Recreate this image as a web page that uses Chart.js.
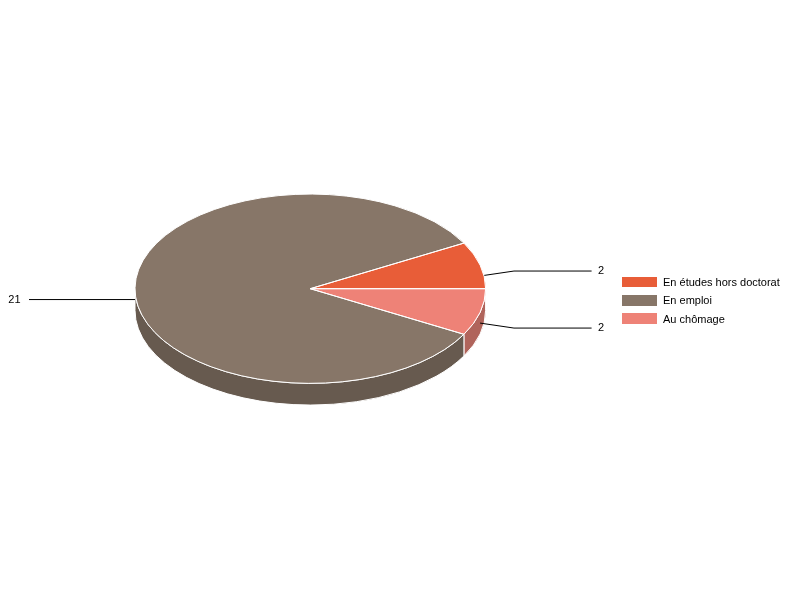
<!DOCTYPE html>
<html lang="fr">
<head>
<meta charset="utf-8">
<title>Situation professionnelle</title>
<script src="https://cdn.jsdelivr.net/npm/chart.js@4.4.1/dist/chart.umd.min.js"></script>
<style>
    html, body { margin: 0; padding: 0; background: #fff; }
    #wrap { position: relative; width: 800px; height: 600px; }
    #pie { position: absolute; left: 0; top: 0; }
    #legend {
        position: absolute; left: 622px; top: 273px;
        font: 11px Arial, "Liberation Sans", sans-serif; color: #000;
    }
    .legend-item { display: flex; align-items: center; height: 18.3px; }
    .legend-color { width: 34.5px; height: 10.5px; margin-right: 6.5px; }
</style>
</head>
<body>
<div id="wrap">
    <canvas id="pie" width="800" height="600"></canvas>
    <div id="legend"></div>
</div>
<script>
// Data
const categories = ['En études hors doctorat', 'En emploi', 'Au chômage'];
const values = [2, 21, 2];
const topColors = ['#E85D38', '#877668', '#EE8277'];
const sideColors = ['#B0482B', '#675A4F', '#B0645B'];

const SQUASH = 0.54;   // ry / rx of the tilted disc
const DEPTH = 21.7;    // thickness of the disc in px

// slices run clockwise from 3 o'clock, so the chart gets them in reverse
const order = categories.map((c, i) => categories.length - 1 - i);

function frontRanges(s, e) {
    const out = [];
    for (let k = -1; k <= 1; k++) {
        const lo = Math.max(s, 2 * Math.PI * k);
        const hi = Math.min(e, 2 * Math.PI * k + Math.PI);
        if (hi > lo) out.push([lo, hi]);
    }
    return out;
}

function leader(arc) {
    const m = (arc.startAngle + arc.endAngle) / 2;
    const rx = arc.outerRadius, ry = rx * SQUASH;
    const base = arc.y + DEPTH / 2;
    const start = { x: arc.x + rx * Math.cos(m), y: base + ry * Math.sin(m) };
    const elbow = { x: arc.x + (rx + 35) * Math.cos(m), y: base + (ry + 20) * Math.sin(m) };
    const right = Math.cos(m) >= 0;
    const endX = right ? arc.x + rx + 106 : arc.x - rx - 106;
    return { start, elbow, endX, right };
}

const pie3d = {
    id: 'pie3d',
    beforeDatasetsDraw(chart) {
        const ctx = chart.ctx;
        const arcs = chart.getDatasetMeta(0).data;
        ctx.save();
        // side walls
        arcs.forEach((arc, i) => {
            const rx = arc.outerRadius, ry = rx * SQUASH;
            frontRanges(arc.startAngle, arc.endAngle).forEach(([a, b]) => {
                ctx.beginPath();
                ctx.ellipse(arc.x, arc.y, rx, ry, 0, a, b);
                ctx.ellipse(arc.x, arc.y + DEPTH, rx, ry, 0, b, a, true);
                ctx.closePath();
                ctx.fillStyle = sideColors[order[i]];
                ctx.fill();
                ctx.strokeStyle = '#fff';
                ctx.lineWidth = 1;
                ctx.stroke();
            });
        });
        // leader lines (drawn under the top faces)
        ctx.strokeStyle = '#000';
        ctx.lineWidth = 1;
        arcs.forEach(arc => {
            const l = leader(arc);
            ctx.beginPath();
            ctx.moveTo(l.start.x, l.start.y);
            ctx.lineTo(l.elbow.x, l.elbow.y);
            ctx.lineTo(l.endX, l.elbow.y);
            ctx.stroke();
        });
        ctx.restore();
        // squash the top faces
        const cy = arcs[0].y;
        ctx.save();
        ctx.translate(0, cy);
        ctx.scale(1, SQUASH);
        ctx.translate(0, -cy);
    },
    afterDatasetsDraw(chart) {
        const ctx = chart.ctx;
        ctx.restore();
        const arcs = chart.getDatasetMeta(0).data;
        ctx.save();
        // slice outlines
        ctx.strokeStyle = '#fff';
        ctx.lineWidth = 1;
        arcs.forEach(arc => {
            const rx = arc.outerRadius, ry = rx * SQUASH;
            ctx.beginPath();
            ctx.moveTo(arc.x, arc.y);
            ctx.ellipse(arc.x, arc.y, rx, ry, 0, arc.startAngle, arc.endAngle);
            ctx.closePath();
            ctx.stroke();
        });
        // value labels
        ctx.fillStyle = '#000';
        ctx.font = '11px Arial, "Liberation Sans", sans-serif';
        ctx.textBaseline = 'middle';
        arcs.forEach((arc, i) => {
            const l = leader(arc);
            ctx.textAlign = l.right ? 'left' : 'right';
            ctx.fillText(String(values[order[i]]), l.endX + (l.right ? 6.5 : -8.5), l.elbow.y);
        });
        ctx.restore();
    }
};

document.addEventListener('DOMContentLoaded', () => {
    const ctx = document.getElementById('pie').getContext('2d');
    new Chart(ctx, {
        type: 'pie',
        data: {
            labels: order.map(i => categories[i]),
            datasets: [{
                data: order.map(i => values[i]),
                backgroundColor: order.map(i => topColors[i]),
                borderWidth: 0
            }]
        },
        options: {
            responsive: false,
            animation: false,
            events: [],
            rotation: 90,
            layout: {
                padding: { left: 0, right: 179.4, top: 113.4, bottom: 136 }
            },
            plugins: {
                legend: { display: false },
                tooltip: { enabled: false }
            }
        },
        plugins: [pie3d]
    });

    // Custom legend
    const legendContainer = document.getElementById('legend');
    legendContainer.innerHTML = categories.map((name, i) => `
        <div class="legend-item">
            <div class="legend-color" style="background: ${topColors[i]}"></div>
            <span class="legend-label">${name}</span>
        </div>
    `).join('');
});
</script>
</body>
</html>
